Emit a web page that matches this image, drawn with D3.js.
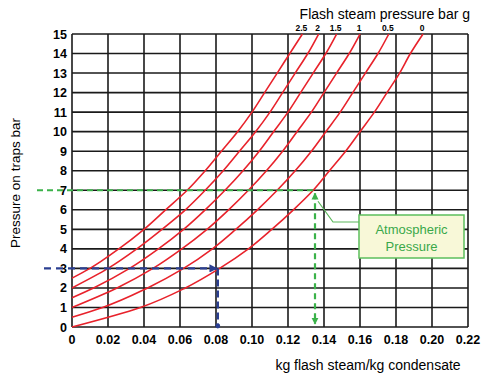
<!DOCTYPE html>
<html>
<head>
<meta charset="utf-8">
<script src="https://cdn.jsdelivr.net/npm/d3@7"></script>
<style>
  body { margin: 0; background: #fff; }
  svg text { font-family: "Liberation Sans", Arial, sans-serif; }
</style>
</head>
<body>
<div id="chart"></div>
<script>
// flash steam curves: x = kg flash steam / kg condensate, at trap pressure (bar g)
var flashLabels = ["2.5", "2", "1.5", "1", "0.5", "0"];
var flashStart = [2.5, 2, 1.5, 1, 0.5, 0];
var trapPressures = [1, 2, 3, 4, 5, 6, 7, 8, 9, 10, 11, 12, 13, 14, 15];

var curve25 = [null, null, 0.010, 0.026, 0.040, 0.052, 0.064, 0.074, 0.083, 0.092, 0.100, 0.107, 0.114, 0.121, 0.128];
var curve2  = [null, 0.000, 0.020, 0.036, 0.050, 0.063, 0.074, 0.084, 0.093, 0.102, 0.110, 0.117, 0.124, 0.131, 0.137];
var curve15 = [null, 0.012, 0.032, 0.048, 0.062, 0.074, 0.085, 0.095, 0.104, 0.112, 0.120, 0.127, 0.134, 0.141, 0.147];
var curve1  = [0.000, 0.025, 0.045, 0.061, 0.075, 0.087, 0.098, 0.108, 0.117, 0.125, 0.133, 0.140, 0.147, 0.154, 0.160];
var curve05 = [0.017, 0.042, 0.062, 0.078, 0.091, 0.103, 0.114, 0.124, 0.133, 0.141, 0.149, 0.156, 0.163, 0.170, 0.176];
var curve0  = [0.038, 0.063, 0.082, 0.098, 0.111, 0.123, 0.134, 0.143, 0.152, 0.160, 0.168, 0.175, 0.182, 0.188, 0.195];
var curves = [curve25, curve2, curve15, curve1, curve05, curve0];

var xTicks = [0, 0.02, 0.04, 0.06, 0.08, 0.10, 0.12, 0.14, 0.16, 0.18, 0.20, 0.22];
var xTickLabels = ["0", "0.02", "0.04", "0.06", "0.08", "0.10", "0.12", "0.14", "0.16", "0.18", "0.20", "0.22"];
var yTicks = [0, 1, 2, 3, 4, 5, 6, 7, 8, 9, 10, 11, 12, 13, 14, 15];

// worked examples
var greenPressure = 7, greenFlash = 0.135;
var bluePressure = 3, blueFlash = 0.081;

var width = 481, height = 378;
var x = d3.scaleLinear().domain([0, 0.22]).range([72, 468]);
var y = d3.scaleLinear().domain([0, 15]).range([327, 34]);

var svg = d3.select("#chart").append("svg")
    .attr("width", width)
    .attr("height", height);

// grid
svg.append("g").selectAll("line")
    .data(xTicks).enter().append("line")
    .attr("x1", function(d) { return x(d); })
    .attr("x2", function(d) { return x(d); })
    .attr("y1", y(0)).attr("y2", y(15))
    .attr("stroke", "#1a1a1a").attr("stroke-width", 1.6);
svg.append("g").selectAll("line")
    .data(yTicks).enter().append("line")
    .attr("x1", x(0)).attr("x2", x(0.22))
    .attr("y1", function(d) { return y(d); })
    .attr("y2", function(d) { return y(d); })
    .attr("stroke", "#1a1a1a").attr("stroke-width", 1.6);

// tick labels
svg.append("g").selectAll("text")
    .data(xTicks).enter().append("text")
    .attr("x", function(d) { return x(d); })
    .attr("y", 344)
    .attr("text-anchor", "middle")
    .style("font-size", "12.5px").style("font-weight", "bold")
    .text(function(d, i) { return xTickLabels[i]; });
svg.append("g").selectAll("text")
    .data(yTicks).enter().append("text")
    .attr("x", 67)
    .attr("y", function(d) { return y(d) + 4.5; })
    .attr("text-anchor", "end")
    .style("font-size", "12.5px").style("font-weight", "bold")
    .text(function(d) { return d; });

// red curves
var line = d3.line()
    .x(function(d) { return x(d[0]); })
    .y(function(d) { return y(d[1]); })
    .curve(d3.curveMonotoneY);

curves.forEach(function(c, k) {
    var pts = [[0, flashStart[k]]];
    c.forEach(function(v, i) {
        if (v != null && trapPressures[i] > flashStart[k]) pts.push([v, trapPressures[i]]);
    });
    svg.append("path")
        .attr("d", line(pts))
        .attr("fill", "none")
        .attr("stroke", "#e8222b")
        .attr("stroke-width", 1.6);
    svg.append("text")
        .attr("x", x(c[c.length - 1]) - 1)
        .attr("y", 31)
        .attr("text-anchor", "middle")
        .style("font-size", "8.5px").style("font-weight", "bold")
        .text(flashLabels[k]);
});

// arrow markers
var defs = svg.append("defs");
defs.append("marker").attr("id", "garrow")
    .attr("viewBox", "0 0 10 10").attr("refX", 9).attr("refY", 5)
    .attr("markerWidth", 3.2).attr("markerHeight", 3.2).attr("orient", "auto-start-reverse")
    .append("path").attr("d", "M0,0L10,5L0,10z").attr("fill", "#3bb24a");
defs.append("marker").attr("id", "barrow")
    .attr("viewBox", "0 0 10 10").attr("refX", 9).attr("refY", 5)
    .attr("markerWidth", 3.4).attr("markerHeight", 3.4).attr("orient", "auto")
    .append("path").attr("d", "M0,0L10,5L0,10z").attr("fill", "#2b3f91");

// green example (atmospheric)
svg.append("line")
    .attr("x1", 37).attr("x2", x(greenFlash))
    .attr("y1", y(greenPressure)).attr("y2", y(greenPressure))
    .attr("stroke", "#3bb24a").attr("stroke-width", 2.2)
    .attr("stroke-dasharray", "6,4");
svg.append("line")
    .attr("x1", x(greenFlash)).attr("x2", x(greenFlash))
    .attr("y1", y(greenPressure) + 3).attr("y2", y(0) - 3)
    .attr("stroke", "#3bb24a").attr("stroke-width", 2.2)
    .attr("stroke-dasharray", "6,4")
    .attr("marker-start", "url(#garrow)")
    .attr("marker-end", "url(#garrow)");

// blue example
svg.append("line")
    .attr("x1", 44).attr("x2", x(blueFlash) - 1)
    .attr("y1", y(bluePressure)).attr("y2", y(bluePressure))
    .attr("stroke", "#2b3f91").attr("stroke-width", 2.4)
    .attr("stroke-dasharray", "7,5")
    .attr("marker-end", "url(#barrow)");
svg.append("line")
    .attr("x1", x(blueFlash)).attr("x2", x(blueFlash))
    .attr("y1", y(bluePressure)).attr("y2", y(0))
    .attr("stroke", "#2b3f91").attr("stroke-width", 2.4)
    .attr("stroke-dasharray", "7,4");
svg.append("circle")
    .attr("cx", x(blueFlash)).attr("cy", y(0) - 1).attr("r", 2.4)
    .attr("fill", "#2b3f91");

// callout
svg.append("polyline")
    .attr("points", [[x(greenFlash) + 3, y(greenPressure) + 11], [333, 222], [359, 222]].join(" "))
    .attr("fill", "none").attr("stroke", "#5cb85c").attr("stroke-width", 1.2);
svg.append("rect")
    .attr("x", 359).attr("y", 215).attr("width", 105).attr("height", 43)
    .attr("fill", "#f8f8d8").attr("stroke", "#5cbf5c").attr("stroke-width", 1.5);
svg.append("text")
    .attr("x", 411.5).attr("y", 233.5).attr("text-anchor", "middle")
    .attr("fill", "#3aa84a").style("font-size", "13px")
    .text("Atmospheric");
svg.append("text")
    .attr("x", 411.5).attr("y", 250.5).attr("text-anchor", "middle")
    .attr("fill", "#3aa84a").style("font-size", "13px")
    .text("Pressure");

// titles
svg.append("text")
    .attr("x", 470).attr("y", 19)
    .attr("text-anchor", "end")
    .style("font-size", "14px")
    .text("Flash steam pressure bar g");
svg.append("text")
    .attr("transform", "translate(20,183) rotate(-90)")
    .attr("text-anchor", "middle")
    .style("font-size", "13.5px")
    .text("Pressure on traps bar");
svg.append("text")
    .attr("x", 368).attr("y", 370)
    .attr("text-anchor", "middle")
    .style("font-size", "14px")
    .text("kg flash steam/kg condensate");
</script>
</body>
</html>
